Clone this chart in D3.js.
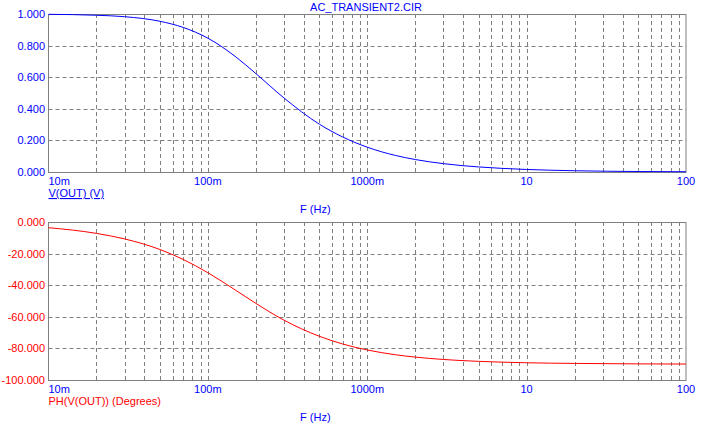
<html>
<head>
<meta charset="utf-8">
<script src="https://d3js.org/d3.v7.min.js"></script>
<style>
  body { margin: 0; background: #fff; }
  text { font-family: Arial, "Liberation Sans", sans-serif; font-size: 11px; }
</style>
</head>
<body>
<div id="chart"></div>
<script>
// frequencies (Hz) and readings taken off the plot
const freq  = [0.01, 0.02, 0.03, 0.05, 0.07, 0.1, 0.15, 0.2, 0.3, 0.5, 0.7, 1, 1.5, 2, 3, 5, 7, 10, 20, 50, 100];
const vout  = [0.998, 0.992, 0.983, 0.954, 0.915, 0.847, 0.728, 0.623, 0.469, 0.303, 0.222, 0.157, 0.105, 0.079, 0.053, 0.032, 0.023, 0.016, 0.008, 0.003, 0.0016];
const phase = [-3.6, -7.2, -10.7, -17.4, -23.7, -32.1, -43.3, -51.5, -62.1, -72.3, -77.2, -81.0, -84.0, -85.5, -87.0, -88.2, -88.7, -89.1, -89.5, -89.8, -89.9];

const xTicks = [0.01, 0.1, 1, 10, 100];
const xTickLabels = ["10m", "100m", "1000m", "10", "100"];
const magTicks = [0, 0.2, 0.4, 0.6, 0.8, 1.0];
const phTicks = [-100, -80, -60, -40, -20, 0];

const W = 712, H = 427;
const left = 48.5, right = 686;

const svg = d3.select("#chart").append("svg")
  .attr("width", W).attr("height", H);

svg.append("text")
  .attr("x", 366).attr("y", 11)
  .attr("text-anchor", "middle")
  .attr("fill", "#0000ff")
  .text("AC_TRANSIENT2.CIR");

const x = d3.scaleLog().domain([0.01, 100]).range([left, right]);

// minor grid positions: 2..9 in each decade
const minor = [];
[0.01, 0.1, 1, 10].forEach(d => { for (let k = 2; k <= 9; k++) minor.push(d * k); });

function panel(opt) {
  const y = d3.scaleLinear().domain(opt.domain).range([opt.bottom, opt.top]);
  const g = svg.append("g");

  // grid
  g.selectAll(".vg").data(minor.concat([0.1, 1, 10])).join("line")
    .attr("x1", d => Math.round(x(d)) + 0.5).attr("x2", d => Math.round(x(d)) + 0.5)
    .attr("y1", opt.top).attr("y2", opt.bottom)
    .attr("stroke", "#808080").attr("stroke-dasharray", "4,3");
  g.selectAll(".hg").data(opt.ticks.slice(1, -1)).join("line")
    .attr("x1", left).attr("x2", right)
    .attr("y1", d => Math.round(y(d)) + 0.5).attr("y2", d => Math.round(y(d)) + 0.5)
    .attr("stroke", "#808080").attr("stroke-dasharray", "4,3");

  // frame
  g.append("rect")
    .attr("x", left).attr("y", opt.top + 0.5)
    .attr("width", right - left).attr("height", opt.bottom - opt.top)
    .attr("fill", "none").attr("stroke", "#808080");

  // y tick labels
  g.selectAll(".yl").data(opt.ticks).join("text")
    .attr("x", 45).attr("y", d => y(d)).attr("dy", "0.36em")
    .attr("text-anchor", "end").attr("fill", opt.color)
    .text(d => d.toFixed(3));

  // x tick labels
  g.selectAll(".xl").data(xTicks).join("text")
    .attr("x", (d, i) => i === 0 ? left : x(d))
    .attr("y", opt.bottom + 12.5)
    .attr("text-anchor", (d, i) => i === 0 ? "start" : "middle")
    .attr("fill", "#0000ff")
    .text((d, i) => xTickLabels[i]);

  // curve
  const line = d3.line()
    .x((d, i) => x(freq[i]))
    .y(d => y(d))
    .curve(d3.curveMonotoneX);
  g.append("path").datum(opt.values)
    .attr("d", line)
    .attr("fill", "none").attr("stroke", opt.color).attr("stroke-width", 1);

  // trace name
  g.append("text")
    .attr("x", left).attr("y", opt.bottom + 25)
    .attr("fill", opt.color)
    .attr("text-decoration", opt.underline ? "underline" : null)
    .text(opt.name);

  g.append("text")
    .attr("x", 300).attr("y", opt.bottom + 40.5)
    .attr("fill", "#0000ff")
    .text("F (Hz)");
}

panel({ top: 14, bottom: 172, domain: [0, 1], ticks: magTicks, values: vout,
        color: "#0000ff", name: "V(OUT) (V)", underline: true });
panel({ top: 222, bottom: 380, domain: [-100, 0], ticks: phTicks, values: phase,
        color: "#ff0000", name: "PH(V(OUT)) (Degrees)", underline: false });
</script>
</body>
</html>
